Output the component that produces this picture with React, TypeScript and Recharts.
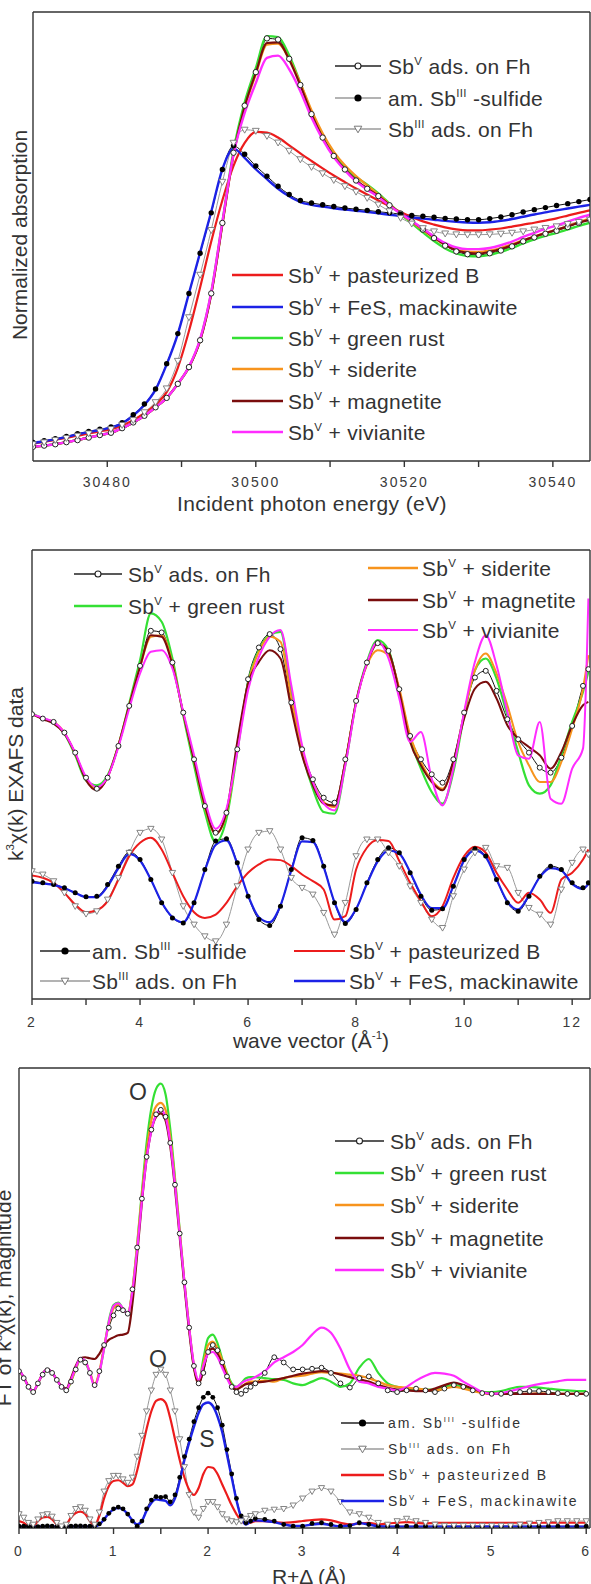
import React from "react";
import { Line, LineChart, XAxis, YAxis } from "recharts";

const FONT = '"Liberation Sans", Arial, Helvetica, sans-serif';
const INK = "#333333";

const BLACK = "#111111";
const GRAY = "#8c8c8c";
const RED = "#ec1c1c";
const BLUE = "#1c22e6";
const GREEN = "#34e034";
const ORANGE = "#f7941d";
const MAROON = "#7a0d0d";
const MAGENTA = "#ff2cff";

// ---------- panel 1: XANES, incident energy (eV) ----------
const E_X = [30470, 30471.5, 30473, 30474.5, 30476, 30477.5, 30479, 30480.5, 30482, 30483.5, 30485, 30486.5, 30488, 30489.5, 30491, 30492.5, 30494, 30495.5, 30497, 30498.5, 30500, 30501.5, 30503, 30504.5, 30506, 30507.5, 30509, 30510.5, 30512, 30513.5, 30515, 30516.5, 30518, 30519.5, 30521, 30522.5, 30524, 30525.5, 30527, 30528.5, 30530, 30531.5, 30533, 30534.5, 30536, 30537.5, 30539, 30540.5, 30542, 30543.5, 30545];
const E_TICKS = [30480, 30490, 30500, 30510, 30520, 30530, 30540];

const E_FH = [-0.004, 0.001, 0.007, 0.016, 0.025, 0.036, 0.047, 0.057, 0.077, 0.102, 0.131, 0.168, 0.209, 0.270, 0.343, 0.460, 0.664, 0.971, 1.277, 1.482, 1.628, 1.775, 1.770, 1.686, 1.572, 1.445, 1.343, 1.263, 1.204, 1.156, 1.120, 1.088, 1.048, 1.012, 0.978, 0.942, 0.905, 0.872, 0.847, 0.835, 0.832, 0.839, 0.851, 0.869, 0.891, 0.908, 0.924, 0.937, 0.953, 0.971, 0.985];
const E_SULF = [0.015, 0.022, 0.031, 0.041, 0.053, 0.063, 0.072, 0.082, 0.101, 0.136, 0.182, 0.248, 0.358, 0.489, 0.664, 0.839, 1.015, 1.204, 1.307, 1.270, 1.219, 1.175, 1.131, 1.095, 1.069, 1.058, 1.050, 1.043, 1.036, 1.031, 1.026, 1.020, 1.015, 1.009, 1.004, 1.000, 0.996, 0.991, 0.988, 0.985, 0.985, 0.990, 0.997, 1.007, 1.019, 1.029, 1.038, 1.047, 1.055, 1.064, 1.073];
const E_SB3 = [0.007, 0.015, 0.025, 0.034, 0.044, 0.054, 0.063, 0.073, 0.091, 0.112, 0.146, 0.190, 0.250, 0.370, 0.560, 0.745, 0.940, 1.150, 1.320, 1.377, 1.372, 1.350, 1.321, 1.285, 1.248, 1.215, 1.187, 1.158, 1.131, 1.107, 1.080, 1.051, 1.022, 0.993, 0.968, 0.948, 0.934, 0.925, 0.921, 0.920, 0.920, 0.921, 0.924, 0.928, 0.934, 0.942, 0.949, 0.956, 0.966, 0.975, 0.985];
const E_PB = [0.010, 0.018, 0.026, 0.035, 0.044, 0.054, 0.063, 0.072, 0.089, 0.112, 0.142, 0.180, 0.234, 0.340, 0.500, 0.690, 0.890, 1.070, 1.220, 1.320, 1.368, 1.365, 1.343, 1.309, 1.274, 1.241, 1.209, 1.178, 1.149, 1.121, 1.095, 1.069, 1.044, 1.019, 0.997, 0.978, 0.964, 0.952, 0.943, 0.939, 0.939, 0.942, 0.947, 0.955, 0.964, 0.972, 0.981, 0.991, 1.003, 1.015, 1.026];
const E_FES = [0.013, 0.020, 0.029, 0.039, 0.050, 0.060, 0.069, 0.079, 0.098, 0.132, 0.178, 0.245, 0.355, 0.488, 0.665, 0.842, 1.020, 1.205, 1.295, 1.255, 1.205, 1.162, 1.120, 1.087, 1.062, 1.050, 1.042, 1.035, 1.029, 1.024, 1.019, 1.013, 1.007, 1.001, 0.995, 0.990, 0.985, 0.980, 0.976, 0.973, 0.972, 0.974, 0.980, 0.988, 0.998, 1.008, 1.017, 1.026, 1.034, 1.042, 1.050];
const E_GR = [-0.004, 0.001, 0.007, 0.016, 0.025, 0.036, 0.047, 0.057, 0.077, 0.102, 0.131, 0.168, 0.209, 0.270, 0.343, 0.462, 0.668, 0.975, 1.285, 1.495, 1.645, 1.785, 1.780, 1.700, 1.580, 1.450, 1.345, 1.268, 1.212, 1.170, 1.138, 1.100, 1.055, 1.010, 0.970, 0.930, 0.892, 0.860, 0.838, 0.827, 0.826, 0.832, 0.845, 0.862, 0.882, 0.900, 0.915, 0.928, 0.943, 0.958, 0.972];
const E_SID = [-0.004, 0.001, 0.007, 0.016, 0.025, 0.036, 0.047, 0.057, 0.077, 0.102, 0.131, 0.168, 0.209, 0.270, 0.343, 0.460, 0.662, 0.965, 1.268, 1.470, 1.618, 1.748, 1.752, 1.685, 1.580, 1.462, 1.362, 1.282, 1.222, 1.175, 1.135, 1.095, 1.052, 1.012, 0.975, 0.940, 0.905, 0.875, 0.855, 0.846, 0.845, 0.851, 0.862, 0.878, 0.896, 0.912, 0.928, 0.942, 0.958, 0.975, 0.990];
const E_MAG = [-0.004, 0.001, 0.007, 0.016, 0.025, 0.036, 0.047, 0.057, 0.077, 0.102, 0.131, 0.168, 0.209, 0.270, 0.343, 0.458, 0.660, 0.965, 1.270, 1.478, 1.625, 1.755, 1.758, 1.682, 1.570, 1.445, 1.342, 1.262, 1.205, 1.158, 1.122, 1.089, 1.050, 1.013, 0.979, 0.944, 0.908, 0.876, 0.852, 0.841, 0.838, 0.845, 0.857, 0.874, 0.894, 0.911, 0.927, 0.941, 0.956, 0.972, 0.986];
const E_VIV = [-0.004, 0.001, 0.007, 0.016, 0.025, 0.036, 0.047, 0.057, 0.077, 0.102, 0.131, 0.168, 0.209, 0.270, 0.345, 0.465, 0.670, 0.975, 1.270, 1.450, 1.580, 1.690, 1.700, 1.640, 1.545, 1.430, 1.335, 1.258, 1.200, 1.152, 1.116, 1.084, 1.046, 1.012, 0.980, 0.946, 0.912, 0.883, 0.864, 0.857, 0.857, 0.862, 0.874, 0.890, 0.910, 0.928, 0.945, 0.960, 0.977, 0.993, 1.007];

// ---------- panel 2: k3 chi(k), wave vector ----------
const K_X = [2.0, 2.2, 2.4, 2.6, 2.8, 3.0, 3.2, 3.4, 3.6, 3.8, 4.0, 4.2, 4.4, 4.6, 4.8, 5.0, 5.2, 5.4, 5.6, 5.8, 6.0, 6.2, 6.4, 6.6, 6.8, 7.0, 7.2, 7.4, 7.6, 7.8, 8.0, 8.2, 8.4, 8.6, 8.8, 9.0, 9.2, 9.4, 9.6, 9.8, 10.0, 10.2, 10.4, 10.6, 10.8, 11.0, 11.2, 11.4, 11.6, 11.8, 12.0, 12.2, 12.3];
const K_TICKS = [2, 3, 4, 5, 6, 7, 8, 9, 10, 11, 12];

const K_FH = [8.53, 8.40, 8.30, 7.98, 7.38, 6.63, 6.30, 6.63, 7.58, 8.78, 9.98, 11.03, 10.98, 10.08, 8.58, 7.18, 5.78, 4.98, 5.58, 7.48, 9.58, 10.53, 10.93, 10.48, 8.88, 7.48, 6.58, 6.03, 5.88, 7.18, 8.93, 10.08, 10.66, 10.43, 9.28, 7.88, 7.18, 6.73, 6.48, 7.18, 8.58, 9.63, 9.83, 9.23, 8.38, 7.78, 7.38, 6.93, 6.78, 7.23, 8.18, 9.38, 9.88];
const K_GR = [8.55, 8.40, 8.28, 7.95, 7.30, 6.55, 6.40, 6.70, 7.60, 8.85, 10.15, 11.55, 11.30, 10.20, 8.50, 7.00, 5.60, 4.70, 5.40, 7.40, 9.50, 10.45, 10.90, 11.00, 9.20, 7.40, 6.30, 5.60, 5.55, 7.00, 8.90, 10.10, 10.75, 10.45, 9.20, 7.80, 6.90, 6.20, 5.85, 6.80, 8.50, 9.85, 10.20, 9.60, 8.50, 7.40, 6.40, 6.15, 6.40, 7.30, 8.30, 9.20, 9.80];
const K_SID = [8.53, 8.40, 8.30, 7.98, 7.35, 6.60, 6.28, 6.65, 7.60, 8.80, 9.95, 10.85, 10.90, 10.05, 8.55, 7.15, 5.75, 4.95, 5.55, 7.50, 9.45, 10.40, 10.85, 10.70, 9.00, 7.45, 6.50, 5.90, 5.75, 7.10, 8.90, 10.00, 10.45, 10.30, 9.30, 7.90, 7.10, 6.55, 6.30, 7.00, 8.55, 9.85, 10.35, 9.75, 8.80, 7.70, 7.00, 6.50, 6.50, 7.10, 8.10, 9.30, 10.30];
const K_MAG = [8.53, 8.38, 8.25, 7.95, 7.35, 6.55, 6.25, 6.65, 7.60, 8.80, 9.95, 10.90, 10.85, 10.00, 8.55, 7.15, 5.80, 4.95, 5.60, 7.70, 9.45, 10.10, 10.45, 10.20, 8.70, 7.30, 6.40, 5.85, 5.80, 7.10, 8.90, 10.05, 10.65, 10.40, 9.20, 7.70, 7.00, 6.50, 6.25, 7.10, 8.40, 9.30, 9.50, 9.00, 8.20, 7.80, 7.55, 7.30, 6.90, 7.40, 8.20, 8.80, 8.90];
const K_VIV = [8.53, 8.42, 8.30, 7.98, 7.38, 6.65, 6.35, 6.65, 7.55, 8.70, 9.75, 10.40, 10.45, 9.90, 8.60, 7.30, 5.95, 5.10, 5.70, 7.40, 9.25, 10.25, 10.85, 11.05, 9.40, 7.60, 6.50, 5.85, 5.65, 7.00, 8.85, 10.05, 10.70, 10.20, 9.00, 7.70, 8.00, 6.60, 5.80, 6.90, 8.60, 10.10, 10.90, 10.00, 8.60, 7.30, 7.20, 8.30, 6.00, 5.85, 6.90, 7.50, 12.00];
const K_SULF = [3.53, 3.48, 3.43, 3.33, 3.18, 3.06, 3.08, 3.43, 3.98, 4.40, 4.18, 3.58, 2.88, 2.43, 2.28, 2.88, 3.88, 4.73, 4.80, 4.08, 3.08, 2.38, 2.20, 2.78, 3.88, 4.83, 4.75, 3.98, 2.88, 2.26, 2.68, 3.48, 4.18, 4.53, 4.38, 3.78, 3.08, 2.66, 2.70, 3.38, 4.18, 4.50, 4.28, 3.58, 2.88, 2.63, 3.08, 3.68, 3.98, 3.88, 3.48, 3.33, 3.48];
const K_FES = [3.50, 3.46, 3.42, 3.32, 3.18, 3.05, 3.05, 3.38, 3.92, 4.35, 4.15, 3.58, 2.90, 2.45, 2.30, 2.88, 3.85, 4.62, 4.75, 4.05, 3.10, 2.45, 2.30, 2.80, 3.85, 4.72, 4.70, 3.95, 2.90, 2.30, 2.70, 3.45, 4.12, 4.45, 4.35, 3.80, 3.12, 2.72, 2.72, 3.38, 4.15, 4.45, 4.25, 3.58, 2.92, 2.68, 3.10, 3.65, 3.92, 3.85, 3.45, 3.30, 3.45];
const K_SB3 = [3.83, 3.73, 3.53, 3.18, 2.78, 2.55, 2.63, 2.98, 3.63, 4.38, 4.98, 5.10, 4.78, 3.78, 2.78, 2.23, 1.88, 1.73, 2.23, 3.38, 4.48, 4.98, 5.03, 4.48, 3.63, 3.33, 3.13, 2.58, 1.93, 2.88, 4.28, 4.78, 4.78, 4.38, 3.98, 3.38, 2.88, 2.38, 2.13, 3.08, 3.88, 4.38, 4.53, 3.98, 3.93, 3.18, 2.73, 2.53, 2.23, 3.28, 4.08, 4.48, 4.33];
const K_PB = [3.70, 3.63, 3.48, 3.18, 2.83, 2.60, 2.66, 2.93, 3.58, 4.28, 4.68, 4.83, 4.48, 3.78, 3.08, 2.60, 2.43, 2.53, 2.88, 3.38, 3.78, 4.03, 4.18, 4.16, 3.98, 3.73, 3.53, 3.28, 2.38, 2.48, 3.88, 4.53, 4.76, 4.73, 4.13, 3.48, 2.93, 2.48, 2.78, 3.63, 4.28, 4.56, 4.38, 3.78, 3.28, 2.88, 3.18, 2.98, 2.58, 3.58, 3.78, 4.18, 4.48];

// ---------- panel 3: FT magnitude, R+delta ----------
const R_X = [0, 0.05, 0.1, 0.15, 0.2, 0.25, 0.3, 0.35, 0.4, 0.45, 0.5, 0.55, 0.6, 0.65, 0.7, 0.75, 0.8, 0.85, 0.9, 0.95, 1.0, 1.05, 1.1, 1.15, 1.2, 1.25, 1.3, 1.35, 1.4, 1.45, 1.5, 1.55, 1.6, 1.65, 1.7, 1.75, 1.8, 1.85, 1.9, 1.95, 2.0, 2.05, 2.1, 2.15, 2.2, 2.25, 2.3, 2.35, 2.4, 2.45, 2.5, 2.6, 2.7, 2.8, 2.9, 3.0, 3.1, 3.2, 3.3, 3.4, 3.5, 3.6, 3.7, 3.8, 3.9, 4.0, 4.1, 4.2, 4.3, 4.4, 4.5, 4.6, 4.7, 4.8, 4.9, 5.0, 5.1, 5.2, 5.3, 5.4, 5.5, 5.6, 5.7, 5.8, 5.9, 6.0];
const R_TICKS = [0, 0.5, 1, 1.5, 2, 2.5, 3, 3.5, 4, 4.5, 5, 5.5, 6];

const R_FH = [4.50, 4.30, 4.05, 3.90, 4.15, 4.40, 4.53, 4.45, 4.25, 4.05, 3.95, 4.20, 4.55, 4.83, 4.75, 4.45, 4.10, 4.50, 5.25, 5.75, 6.10, 6.30, 6.25, 6.15, 6.85, 8.05, 9.45, 10.65, 11.43, 11.87, 12.00, 11.80, 11.05, 9.85, 8.45, 7.05, 5.75, 4.65, 4.15, 4.45, 5.05, 5.25, 5.10, 4.75, 4.35, 4.05, 3.90, 3.85, 3.95, 4.05, 4.15, 4.45, 4.90, 4.75, 4.55, 4.55, 4.57, 4.60, 4.45, 4.15, 4.03, 4.30, 4.35, 4.15, 3.95, 3.90, 3.95, 4.00, 3.95, 3.90, 4.00, 4.10, 4.05, 3.95, 3.87, 3.85, 3.85, 3.87, 3.90, 3.93, 3.93, 3.90, 3.87, 3.85, 3.85, 3.85];
const R_GR = [4.50, 4.30, 4.05, 3.90, 4.15, 4.40, 4.53, 4.45, 4.25, 4.05, 3.95, 4.20, 4.55, 4.83, 4.75, 4.45, 4.10, 4.45, 5.15, 5.95, 6.40, 6.47, 6.30, 6.15, 6.85, 8.15, 9.65, 11.05, 12.05, 12.60, 12.75, 12.45, 11.45, 10.05, 8.55, 7.05, 5.75, 4.65, 4.20, 4.85, 5.45, 5.55, 5.30, 4.85, 4.45, 4.15, 4.05, 4.15, 4.30, 4.33, 4.33, 4.30, 4.27, 4.25, 4.15, 4.10, 4.20, 4.30, 4.20, 4.05, 4.15, 4.60, 4.85, 4.45, 4.15, 4.05, 4.00, 4.00, 3.97, 3.97, 4.05, 4.10, 4.05, 3.95, 3.90, 3.90, 3.93, 4.00, 4.05, 4.05, 4.03, 4.00, 3.97, 3.95, 3.93, 3.93];
const R_SID = [4.52, 4.32, 4.06, 3.92, 4.15, 4.42, 4.54, 4.46, 4.25, 4.06, 3.97, 4.22, 4.57, 4.85, 4.78, 4.48, 4.12, 4.50, 5.20, 5.85, 6.30, 6.40, 6.30, 6.15, 6.85, 8.10, 9.55, 10.80, 11.70, 12.10, 12.20, 12.00, 11.20, 9.95, 8.50, 7.05, 5.75, 4.65, 4.20, 4.70, 5.25, 5.35, 5.15, 4.80, 4.40, 4.10, 4.00, 4.05, 4.15, 4.20, 4.20, 4.23, 4.20, 4.30, 4.35, 4.37, 4.43, 4.47, 4.45, 4.43, 4.40, 4.37, 4.30, 4.20, 4.10, 4.05, 4.03, 4.00, 3.97, 3.95, 4.00, 4.05, 4.00, 3.93, 3.87, 3.85, 3.85, 3.85, 3.85, 3.85, 3.87, 3.85, 3.85, 3.85, 3.85, 3.85];
const R_MAG = [4.55, 4.33, 4.07, 3.93, 4.15, 4.43, 4.55, 4.47, 4.25, 4.07, 4.00, 4.30, 4.65, 4.87, 4.90, 4.87, 4.85, 5.00, 5.25, 5.40, 5.47, 5.53, 5.55, 5.60, 6.45, 7.85, 9.35, 10.60, 11.40, 11.80, 11.90, 11.70, 10.95, 9.75, 8.35, 6.95, 5.65, 4.60, 4.13, 4.55, 5.05, 5.15, 5.00, 4.70, 4.35, 4.07, 3.97, 4.05, 4.13, 4.15, 4.17, 4.20, 4.25, 4.30, 4.37, 4.43, 4.47, 4.50, 4.47, 4.40, 4.33, 4.27, 4.20, 4.10, 4.02, 3.97, 3.95, 3.93, 3.93, 4.00, 4.10, 4.17, 4.10, 4.00, 3.90, 3.85, 3.85, 3.85, 3.85, 3.85, 3.85, 3.85, 3.85, 3.85, 3.85, 3.85];
const R_VIV = [4.55, 4.33, 4.05, 3.93, 4.15, 4.42, 4.55, 4.47, 4.25, 4.05, 3.97, 4.25, 4.60, 4.87, 4.80, 4.45, 4.05, 4.45, 5.15, 5.90, 6.37, 6.45, 6.30, 6.15, 6.80, 8.00, 9.40, 10.60, 11.40, 11.85, 12.00, 11.80, 11.05, 9.85, 8.45, 7.05, 5.75, 4.70, 4.25, 4.65, 5.00, 5.05, 4.90, 4.60, 4.30, 4.07, 4.05, 4.15, 4.23, 4.27, 4.33, 4.50, 4.75, 4.90, 5.05, 5.25, 5.55, 5.75, 5.60, 5.15, 4.55, 4.20, 4.15, 4.05, 4.00, 3.95, 4.05, 4.23, 4.37, 4.45, 4.43, 4.37, 4.20, 4.05, 3.90, 3.85, 3.87, 3.93, 4.00, 4.07, 4.13, 4.17, 4.21, 4.25, 4.25, 4.25];
const R_SULF = [0.05, 0.05, 0.05, 0.04, 0.04, 0.05, 0.06, 0.05, 0.04, 0.04, 0.05, 0.05, 0.06, 0.06, 0.05, 0.05, 0.06, 0.12, 0.25, 0.42, 0.55, 0.60, 0.55, 0.40, 0.20, 0.05, 0.20, 0.55, 0.80, 0.90, 0.88, 0.90, 0.75, 0.95, 1.45, 2.05, 2.55, 3.05, 3.45, 3.75, 3.87, 3.75, 3.45, 2.95, 2.25, 1.55, 0.85, 0.35, 0.15, 0.20, 0.27, 0.25, 0.20, 0.10, 0.05, 0.05, 0.13, 0.15, 0.10, 0.05, 0.07, 0.15, 0.10, 0.05, 0.05, 0.05, 0.05, 0.05, 0.05, 0.05, 0.05, 0.05, 0.05, 0.05, 0.05, 0.05, 0.05, 0.05, 0.05, 0.05, 0.05, 0.05, 0.05, 0.05, 0.05, 0.05];
const R_FES = [0.04, 0.04, 0.04, 0.04, 0.04, 0.04, 0.04, 0.04, 0.04, 0.04, 0.04, 0.04, 0.04, 0.04, 0.04, 0.04, 0.04, 0.10, 0.25, 0.42, 0.53, 0.57, 0.53, 0.40, 0.22, 0.10, 0.20, 0.50, 0.72, 0.82, 0.80, 0.78, 0.65, 0.85, 1.35, 1.95, 2.45, 2.90, 3.30, 3.55, 3.60, 3.50, 3.20, 2.75, 2.10, 1.45, 0.80, 0.30, 0.10, 0.18, 0.22, 0.20, 0.17, 0.10, 0.06, 0.06, 0.10, 0.12, 0.08, 0.05, 0.07, 0.14, 0.10, 0.05, 0.04, 0.04, 0.04, 0.04, 0.04, 0.04, 0.04, 0.04, 0.04, 0.04, 0.04, 0.04, 0.04, 0.04, 0.04, 0.04, 0.04, 0.04, 0.04, 0.04, 0.04, 0.04];
const R_SB3 = [0.40, 0.30, 0.15, 0.10, 0.25, 0.37, 0.40, 0.33, 0.15, 0.05, 0.10, 0.35, 0.55, 0.60, 0.50, 0.25, 0.10, 0.45, 1.05, 1.35, 1.50, 1.50, 1.40, 1.30, 1.45, 2.05, 2.65, 3.35, 3.95, 4.40, 4.55, 4.40, 3.95, 3.35, 2.55, 1.75, 0.95, 0.45, 0.30, 0.55, 0.75, 0.75, 0.60, 0.40, 0.25, 0.20, 0.17, 0.20, 0.27, 0.35, 0.40, 0.50, 0.53, 0.55, 0.65, 0.85, 1.05, 1.15, 1.05, 0.75, 0.45, 0.40, 0.30, 0.15, 0.10, 0.20, 0.27, 0.20, 0.15, 0.10, 0.07, 0.07, 0.07, 0.07, 0.07, 0.07, 0.07, 0.07, 0.10, 0.13, 0.15, 0.17, 0.20, 0.20, 0.20, 0.20];
const R_PB = [0.20, 0.15, 0.05, 0.05, 0.20, 0.30, 0.32, 0.25, 0.10, 0.05, 0.10, 0.30, 0.43, 0.47, 0.40, 0.20, 0.07, 0.35, 0.85, 1.20, 1.35, 1.37, 1.30, 1.20, 1.25, 1.65, 2.25, 2.85, 3.35, 3.65, 3.70, 3.60, 3.15, 2.55, 1.95, 1.45, 1.10, 0.95, 1.15, 1.55, 1.75, 1.73, 1.55, 1.25, 0.95, 0.65, 0.40, 0.20, 0.13, 0.15, 0.20, 0.20, 0.17, 0.15, 0.17, 0.20, 0.23, 0.25, 0.22, 0.15, 0.10, 0.13, 0.15, 0.10, 0.13, 0.15, 0.17, 0.15, 0.13, 0.15, 0.15, 0.15, 0.15, 0.15, 0.15, 0.15, 0.15, 0.15, 0.15, 0.15, 0.15, 0.15, 0.15, 0.15, 0.15, 0.15];

type Marker = "open" | "filled" | "tri" | null;
type Series = { key: string; values: number[]; color: string; width: number; marker: Marker; markerColor?: string };
type Part = string | { sup: string };

function buildRows(xs: number[], series: Series[]) {
  return xs.map((x, i) => {
    const row: Record<string, number> = { x };
    series.forEach((s) => {
      row[s.key] = s.values[i];
    });
    return row;
  });
}

function markerDot(kind: Marker, color: string, r: number) {
  if (!kind) return false;
  return (p: any) => {
    const k = `d${p.index}`;
    if (p.cx == null || p.cy == null) return <g key={k} />;
    if (kind === "open") return <circle key={k} cx={p.cx} cy={p.cy} r={r} fill="#fff" stroke={color} strokeWidth={1} />;
    if (kind === "filled") return <circle key={k} cx={p.cx} cy={p.cy} r={r} fill={color} />;
    const s = r + 0.7;
    return (
      <path
        key={k}
        d={`M${p.cx - s},${p.cy - s * 0.75}L${p.cx + s},${p.cy - s * 0.75}L${p.cx},${p.cy + s}Z`}
        fill="#fff"
        stroke={color}
        strokeWidth={0.9}
      />
    );
  };
}

const P1_SERIES: Series[] = [
  { key: "fh", values: E_FH, color: BLACK, width: 1, marker: "open", markerColor: "#222" },
  { key: "sulf", values: E_SULF, color: BLACK, width: 1, marker: "filled", markerColor: "#000" },
  { key: "sb3", values: E_SB3, color: "#9a9a9a", width: 1, marker: "tri", markerColor: "#777" },
  { key: "pb", values: E_PB, color: RED, width: 2.2, marker: null },
  { key: "fes", values: E_FES, color: BLUE, width: 2.4, marker: null },
  { key: "gr", values: E_GR, color: GREEN, width: 2.4, marker: null },
  { key: "sid", values: E_SID, color: ORANGE, width: 2.2, marker: null },
  { key: "mag", values: E_MAG, color: MAROON, width: 2.2, marker: null },
  { key: "viv", values: E_VIV, color: MAGENTA, width: 2.4, marker: null }
];

const P2_SERIES: Series[] = [
  { key: "fh", values: K_FH, color: BLACK, width: 1, marker: "open", markerColor: "#222" },
  { key: "sulf", values: K_SULF, color: BLACK, width: 1, marker: "filled", markerColor: "#000" },
  { key: "sb3", values: K_SB3, color: "#9a9a9a", width: 1, marker: "tri", markerColor: "#777" },
  { key: "pb", values: K_PB, color: RED, width: 2, marker: null },
  { key: "fes", values: K_FES, color: BLUE, width: 2.2, marker: null },
  { key: "gr", values: K_GR, color: GREEN, width: 2.2, marker: null },
  { key: "sid", values: K_SID, color: ORANGE, width: 2, marker: null },
  { key: "mag", values: K_MAG, color: MAROON, width: 2, marker: null },
  { key: "viv", values: K_VIV, color: MAGENTA, width: 2, marker: null }
];

const P3_SERIES: Series[] = [
  { key: "fh", values: R_FH, color: BLACK, width: 1, marker: "open", markerColor: "#222" },
  { key: "sulf", values: R_SULF, color: BLACK, width: 1, marker: "filled", markerColor: "#000" },
  { key: "sb3", values: R_SB3, color: "#9a9a9a", width: 1, marker: "tri", markerColor: "#777" },
  { key: "pb", values: R_PB, color: RED, width: 2.2, marker: null },
  { key: "fes", values: R_FES, color: BLUE, width: 2.4, marker: null },
  { key: "gr", values: R_GR, color: GREEN, width: 2.2, marker: null },
  { key: "sid", values: R_SID, color: ORANGE, width: 2.2, marker: null },
  { key: "mag", values: R_MAG, color: MAROON, width: 2.2, marker: null },
  { key: "viv", values: R_VIV, color: MAGENTA, width: 2.2, marker: null }
];

const AXIS_LINE = { stroke: INK, strokeWidth: 1.4 };

function Panel({
  top,
  height,
  margin,
  bottomHeight,
  tickMargin,
  xs,
  series,
  xDomain,
  yDomain,
  ticks,
  format,
  dotR
}: {
  top: number;
  height: number;
  margin: { top: number; right: number; bottom: number; left: number };
  bottomHeight: number;
  tickMargin: number;
  xs: number[];
  series: Series[];
  xDomain: [number, number];
  yDomain: [number, number];
  ticks: number[];
  format: (v: number) => string;
  dotR: number;
}) {
  const data = buildRows(xs, series);
  return (
    <div style={{ position: "absolute", left: 0, top, width: 591, height }}>
      <LineChart width={591} height={height} data={data} margin={margin}>
        <XAxis
          dataKey="x"
          type="number"
          domain={xDomain}
          ticks={ticks}
          interval={0}
          tickFormatter={format}
          height={bottomHeight}
          tickSize={6}
          tickMargin={tickMargin}
          axisLine={AXIS_LINE}
          tickLine={AXIS_LINE}
          tick={{ fontSize: 14, fill: "#3a3a3a", fontFamily: FONT, letterSpacing: 2 }}
          allowDataOverflow
        />
        <XAxis
          xAxisId="top"
          orientation="top"
          type="number"
          domain={xDomain}
          ticks={ticks}
          interval={0}
          height={1}
          mirror
          tick={false}
          tickSize={6}
          axisLine={AXIS_LINE}
          tickLine={AXIS_LINE}
          allowDataOverflow
        />
        <YAxis type="number" domain={yDomain} width={1} tick={false} tickLine={false} axisLine={AXIS_LINE} allowDataOverflow />
        <YAxis yAxisId="r" orientation="right" type="number" domain={yDomain} width={1} tick={false} tickLine={false} axisLine={AXIS_LINE} allowDataOverflow />
        {series.map((s) => (
          <Line
            key={s.key}
            dataKey={s.key}
            type="monotone"
            stroke={s.color}
            strokeWidth={s.width}
            dot={markerDot(s.marker, s.markerColor ?? s.color, dotR)}
            activeDot={false}
            isAnimationActive={false}
          />
        ))}
      </LineChart>
    </div>
  );
}

function Txt({
  x,
  y,
  parts,
  size,
  spacing = 0,
  anchor = "start",
  rotate = false,
  color = INK
}: {
  x: number;
  y: number;
  parts: Part[];
  size: number;
  spacing?: number;
  anchor?: "start" | "middle" | "end";
  rotate?: boolean;
  color?: string;
}) {
  const shift = size * 0.42;
  let raised = false;
  const children = parts.map((p, i) => {
    if (typeof p === "string") {
      const dy = raised ? shift : 0;
      raised = false;
      return (
        <tspan key={i} dy={dy}>
          {p}
        </tspan>
      );
    }
    raised = true;
    return (
      <tspan key={i} dy={-shift} fontSize={size * 0.55}>
        {p.sup}
      </tspan>
    );
  });
  return (
    <text
      x={x}
      y={y}
      fontSize={size}
      fontFamily={FONT}
      fill={color}
      letterSpacing={spacing}
      textAnchor={anchor}
      transform={rotate ? `rotate(-90 ${x} ${y})` : undefined}
    >
      {children}
    </text>
  );
}

function LegendMark({ kind, x, y }: { kind: Marker; x: number; y: number }) {
  if (kind === "open") return <circle cx={x} cy={y} r={3} fill="#fff" stroke="#222" strokeWidth={1.1} />;
  if (kind === "filled") return <circle cx={x} cy={y} r={3.6} fill="#000" />;
  if (kind === "tri")
    return <path d={`M${x - 3.8},${y - 2.8}L${x + 3.8},${y - 2.8}L${x},${y + 3.8}Z`} fill="#fff" stroke="#777" strokeWidth={1} />;
  return null;
}

function Row({
  x1,
  x2,
  y,
  tx,
  color,
  width,
  marker = null,
  parts,
  size = 21,
  spacing = 0.3
}: {
  x1: number;
  x2: number;
  y: number;
  tx: number;
  color: string;
  width: number;
  marker?: Marker;
  parts: Part[];
  size?: number;
  spacing?: number;
}) {
  return (
    <g>
      <line x1={x1} x2={x2} y1={y} y2={y} stroke={color} strokeWidth={width} />
      <LegendMark kind={marker} x={(x1 + x2) / 2} y={y} />
      <Txt x={tx} y={y + size * 0.36} parts={parts} size={size} spacing={spacing} />
    </g>
  );
}

const L_FH: Part[] = ["Sb", { sup: "V" }, " ads. on Fh"];
const L_SULF: Part[] = ["am. Sb", { sup: "III" }, " -sulfide"];
const L_SB3: Part[] = ["Sb", { sup: "III" }, " ads. on Fh"];
const L_PB: Part[] = ["Sb", { sup: "V" }, " + pasteurized B"];
const L_FES: Part[] = ["Sb", { sup: "V" }, " + FeS, mackinawite"];
const L_GR: Part[] = ["Sb", { sup: "V" }, " + green rust"];
const L_SID: Part[] = ["Sb", { sup: "V" }, " + siderite"];
const L_MAG: Part[] = ["Sb", { sup: "V" }, " + magnetite"];
const L_VIV: Part[] = ["Sb", { sup: "V" }, " + vivianite"];

function Overlay() {
  return (
    <svg width={591} height={1584} style={{ position: "absolute", left: 0, top: 0, pointerEvents: "none" }}>
      {/* panel 1 */}
      <Txt x={27} y={235} parts={["Normalized absorption"]} size={21} anchor="middle" rotate />
      <Txt x={312} y={511} parts={["Incident photon energy (eV)"]} size={21} anchor="middle" spacing={0.4} />
      <Row x1={335} x2={381} y={66} tx={388} color="#222" width={1.4} marker="open" parts={L_FH} />
      <Row x1={335} x2={381} y={98} tx={388} color="#9a9a9a" width={1.4} marker="filled" parts={L_SULF} />
      <Row x1={335} x2={381} y={129} tx={388} color="#9a9a9a" width={1.4} marker="tri" parts={L_SB3} />
      <Row x1={232} x2={283} y={275} tx={288} color={RED} width={2.4} parts={L_PB} />
      <Row x1={232} x2={283} y={307} tx={288} color={BLUE} width={2.4} parts={L_FES} />
      <Row x1={232} x2={283} y={338} tx={288} color={GREEN} width={2.6} parts={L_GR} />
      <Row x1={232} x2={283} y={369} tx={288} color={ORANGE} width={2.4} parts={L_SID} />
      <Row x1={232} x2={283} y={401} tx={288} color={MAROON} width={2.4} parts={L_MAG} />
      <Row x1={232} x2={283} y={432} tx={288} color={MAGENTA} width={2.6} parts={L_VIV} />

      {/* panel 2 */}
      <Txt x={23} y={774} parts={["k", { sup: "3" }, "χ(k) EXAFS data"]} size={21} anchor="middle" rotate />
      <Txt x={311} y={1048} parts={["wave vector (Å", { sup: "-1" }, ")"]} size={21} anchor="middle" />
      <Row x1={74} x2={122} y={574} tx={128} color="#222" width={1.4} marker="open" parts={L_FH} />
      <Row x1={74} x2={122} y={606} tx={128} color={GREEN} width={2.6} parts={L_GR} />
      <Row x1={368} x2={418} y={568} tx={422} color={ORANGE} width={2.4} parts={L_SID} />
      <Row x1={368} x2={418} y={600} tx={422} color={MAROON} width={2.4} parts={L_MAG} />
      <Row x1={368} x2={418} y={630} tx={422} color={MAGENTA} width={2} parts={L_VIV} />
      <Row x1={40} x2={90} y={951} tx={92} color="#222" width={1.4} marker="filled" parts={L_SULF} />
      <Row x1={40} x2={90} y={981} tx={92} color="#9a9a9a" width={1.4} marker="tri" parts={L_SB3} />
      <Row x1={294} x2={345} y={951} tx={349} color={RED} width={2.2} parts={L_PB} />
      <Row x1={294} x2={345} y={981} tx={349} color={BLUE} width={2.6} parts={L_FES} />

      {/* panel 3 */}
      <Txt x={11} y={1298} parts={["FT of k", { sup: "3" }, "χ(k), magnitude"]} size={21} anchor="middle" rotate />
      <Txt x={309} y={1584} parts={["R+Δ (Å)"]} size={21} anchor="middle" />
      <Txt x={138} y={1100} parts={["O"]} size={23} anchor="middle" />
      <Txt x={158} y={1367} parts={["O"]} size={23} anchor="middle" />
      <Txt x={207} y={1447} parts={["S"]} size={23} anchor="middle" />
      <Row x1={335} x2={384} y={1141} tx={390} color="#222" width={1.4} marker="open" parts={L_FH} />
      <Row x1={335} x2={384} y={1173} tx={390} color={GREEN} width={2.6} parts={L_GR} />
      <Row x1={335} x2={384} y={1205} tx={390} color={ORANGE} width={2.4} parts={L_SID} />
      <Row x1={335} x2={384} y={1238} tx={390} color={MAROON} width={2.4} parts={L_MAG} />
      <Row x1={335} x2={384} y={1270} tx={390} color={MAGENTA} width={2.4} parts={L_VIV} />
      <Row x1={341} x2={384} y={1423} tx={388} color="#222" width={1.4} marker="filled" parts={L_SULF} size={14} spacing={1.9} />
      <Row x1={341} x2={384} y={1449} tx={388} color="#9a9a9a" width={1.4} marker="tri" parts={L_SB3} size={14} spacing={1.9} />
      <Row x1={341} x2={384} y={1475} tx={388} color={RED} width={2.4} parts={L_PB} size={14} spacing={1.9} />
      <Row x1={341} x2={384} y={1501} tx={388} color={BLUE} width={2.6} parts={L_FES} size={14} spacing={1.9} />
    </svg>
  );
}

export default function App() {
  return (
    <div style={{ position: "absolute", left: 0, top: 0, width: 591, height: 1584, background: "#fff", overflow: "hidden" }}>
      <Panel
        top={0}
        height={520}
        margin={{ top: 12, right: 0, bottom: 0, left: 32 }}
        bottomHeight={59}
        tickMargin={10}
        xs={E_X}
        series={P1_SERIES}
        xDomain={[30470, 30545]}
        yDomain={[-0.066, 1.89]}
        ticks={E_TICKS}
        format={(v) => (v % 20 === 0 ? String(v) : "")}
        dotR={2.7}
      />
      <Panel
        top={520}
        height={530}
        margin={{ top: 30, right: 0, bottom: 0, left: 31 }}
        bottomHeight={51}
        tickMargin={12}
        xs={K_X}
        series={P2_SERIES}
        xDomain={[2, 12.33]}
        yDomain={[0, 13.45]}
        ticks={K_TICKS}
        format={(v) => (v % 2 === 0 ? String(v) : "")}
        dotR={2.5}
      />
      <Panel
        top={1050}
        height={534}
        margin={{ top: 18, right: 0, bottom: 0, left: 18 }}
        bottomHeight={56}
        tickMargin={12}
        xs={R_X}
        series={P3_SERIES}
        xDomain={[0, 6.04]}
        yDomain={[0, 13.2]}
        ticks={R_TICKS}
        format={(v) => (Number.isInteger(v) ? String(v) : "")}
        dotR={2.4}
      />
      <Overlay />
    </div>
  );
}
